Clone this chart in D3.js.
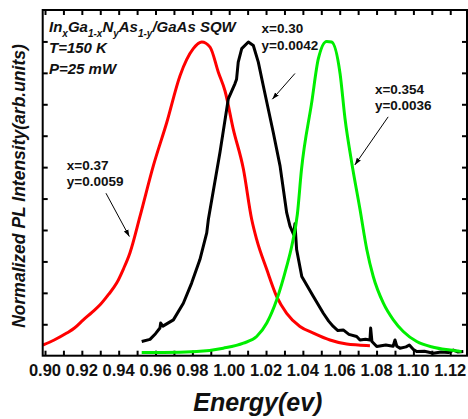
<!DOCTYPE html>
<html>
<head>
<meta charset="utf-8">
<script src="https://cdn.jsdelivr.net/npm/d3@7"></script>
<style>
  body { margin: 0; background: #fff; }
  text { font-family: Arial, "Liberation Sans", sans-serif; font-weight: bold; }
</style>
</head>
<body>
<div id="chart"></div>
<script>
// PL spectra, [energy (eV), normalized intensity]
var redSeries = [
  [0.8989, 0.034], [0.9050, 0.050], [0.9118, 0.072], [0.9160, 0.088], [0.9208, 0.114],
  [0.9255, 0.138], [0.9299, 0.162], [0.9345, 0.195], [0.9389, 0.231], [0.9425, 0.275],
  [0.9461, 0.327], [0.9516, 0.444], [0.9588, 0.604], [0.9661, 0.742], [0.9733, 0.891],
  [0.9805, 0.977], [0.9851, 0.998], [0.9896, 0.982], [0.9941, 0.902], [0.9977, 0.843],
  [1.0022, 0.721], [1.0077, 0.594], [1.0122, 0.434], [1.0149, 0.370], [1.0204, 0.274],
  [1.0258, 0.188], [1.0312, 0.135], [1.0384, 0.093], [1.0457, 0.072], [1.0547, 0.050],
  [1.0638, 0.037], [1.0700, 0.034], [1.0764, 0.032]
];
var blackSeries = [
  [0.9525, 0.045], [0.9570, 0.052], [0.9600, 0.070], [0.9624, 0.088], [0.9628, 0.104],
  [0.9640, 0.094], [0.9697, 0.114], [0.9751, 0.167], [0.9796, 0.231], [0.9841, 0.306],
  [0.9878, 0.391], [0.9887, 0.434], [0.9950, 0.647], [0.9995, 0.817], [1.0031, 0.865],
  [1.0040, 0.880], [1.0049, 0.934], [1.0068, 0.977], [1.0104, 0.998], [1.0131, 0.987],
  [1.0158, 0.934], [1.0185, 0.859], [1.0212, 0.785], [1.0239, 0.711], [1.0276, 0.604],
  [1.0312, 0.455], [1.0330, 0.412], [1.0350, 0.385], [1.0357, 0.420], [1.0366, 0.338],
  [1.0394, 0.252], [1.0457, 0.188], [1.0511, 0.135], [1.0540, 0.110], [1.0565, 0.093],
  [1.0590, 0.080], [1.0619, 0.082], [1.0650, 0.068], [1.0692, 0.061], [1.0710, 0.050],
  [1.0740, 0.052], [1.0764, 0.050], [1.0768, 0.088], [1.0775, 0.045], [1.0801, 0.029],
  [1.0850, 0.034], [1.0890, 0.030], [1.0900, 0.050], [1.0910, 0.030], [1.0927, 0.024],
  [1.0960, 0.028], [1.0978, 0.034], [1.1000, 0.020], [1.1018, 0.013], [1.1060, 0.014],
  [1.1108, 0.008], [1.1150, 0.012], [1.1190, 0.010], [1.1217, 0.018], [1.1240, 0.012],
  [1.1271, 0.013]
];
var greenSeries = [
  [0.9525, 0.010], [0.9642, 0.010], [0.9824, 0.013], [0.9968, 0.024], [1.0077, 0.040],
  [1.0149, 0.061], [1.0204, 0.104], [1.0258, 0.178], [1.0312, 0.284], [1.0340, 0.350],
  [1.0370, 0.450], [1.0392, 0.590], [1.0448, 0.806], [1.0484, 0.945], [1.0529, 1.000],
  [1.0556, 0.998], [1.0602, 0.897], [1.0629, 0.753], [1.0665, 0.615], [1.0710, 0.466],
  [1.0747, 0.338], [1.0782, 0.252], [1.0837, 0.167], [1.0891, 0.114], [1.0945, 0.077],
  [1.1018, 0.045], [1.1108, 0.027], [1.1199, 0.018], [1.1262, 0.013]
];

// x tick labels (every 0.02) and minor ticks (every 0.01)
var xLabels = ["0.90", "0.92", "0.94", "0.96", "0.98", "1.00", "1.02", "1.04", "1.06", "1.08", "1.10", "1.12"];
var yTickValues = [0.1, 0.2, 0.3, 0.4, 0.5, 0.6, 0.7, 0.8, 0.9, 1.0];

// annotations: text anchor and arrow (from -> to) in data units
var notes = [
  {lines: ["x=0.37", "y=0.0059"], at: [0.9118, 0.591], from: [0.9331, 0.517], to: [0.9458, 0.379]},
  {lines: ["x=0.30", "y=0.0042"], at: [1.0176, 1.026], from: [1.0357, 0.898], to: [1.0234, 0.816]},
  {lines: ["x=0.354", "y=0.0036"], at: [1.0791, 0.833], from: [1.0863, 0.760], to: [1.0682, 0.607]}
];

var W = 468, H = 419;
var mLeft = 42.7, mRight = 467, mTop = 10, mBottom = 355.7;

var x = d3.scaleLinear().domain([0.89875, 1.1291]).range([mLeft, mRight]);
var y = d3.scaleLinear().domain([0, 1.1]).range([mBottom, mTop]);

var svg = d3.select("#chart").append("svg")
    .attr("width", W)
    .attr("height", H);

svg.append("defs").append("marker")
    .attr("id", "arrow")
    .attr("viewBox", "0 0 10 10")
    .attr("refX", 10).attr("refY", 5)
    .attr("markerWidth", 7).attr("markerHeight", 7)
    .attr("markerUnits", "userSpaceOnUse")
    .attr("orient", "auto")
    .append("path")
    .attr("d", "M0,1.5 L10,5 L0,8.5 Z")
    .attr("fill", "#000");

var xTicks = d3.range(0, 23).map(function(i){ return +(0.90 + i * 0.01).toFixed(2); });

// inward ticks on all four sides
var tickLen = 5;
var bottomAxis = d3.axisBottom(x).tickValues(xTicks).tickSize(-tickLen).tickFormat("");
var topAxis = d3.axisTop(x).tickValues(xTicks).tickSize(-tickLen).tickFormat("");
var leftAxis = d3.axisLeft(y).tickValues(yTickValues).tickSize(-tickLen).tickFormat("");
var rightAxis = d3.axisRight(y).tickValues(yTickValues).tickSize(-tickLen).tickFormat("");

function styleAxis(g) {
  g.select(".domain").remove();
  g.selectAll(".tick line").attr("stroke", "#000").attr("stroke-width", 2);
}

svg.append("g").attr("transform", "translate(0," + mBottom + ")").call(bottomAxis).call(styleAxis);
svg.append("g").attr("transform", "translate(0," + mTop + ")").call(topAxis).call(styleAxis);
svg.append("g").attr("transform", "translate(" + mLeft + ",0)").call(leftAxis).call(styleAxis);
svg.append("g").attr("transform", "translate(" + mRight + ",0)").call(rightAxis).call(styleAxis);

// x tick labels
svg.append("g").selectAll("text")
    .data(xLabels)
    .enter().append("text")
    .attr("x", function(d){ return x(+d); })
    .attr("y", mBottom + 20.5)
    .attr("text-anchor", "middle")
    .attr("font-size", 16.5)
    .attr("fill", "#111")
    .text(function(d){ return d; });

// curves
svg.append("clipPath").attr("id", "plotclip").append("rect")
    .attr("x", mLeft).attr("y", mTop).attr("width", mRight - mLeft).attr("height", mBottom - mTop);

var line = d3.line()
    .curve(d3.curveLinear)
    .x(function(d){ return x(d[0]); })
    .y(function(d){ return y(d[1]); });

var smooth = d3.line()
    .curve(d3.curveMonotoneX)
    .x(function(d){ return x(d[0]); })
    .y(function(d){ return y(d[1]); });

var plot = svg.append("g").attr("clip-path", "url(#plotclip)");

plot.append("path").attr("d", smooth(redSeries))
    .attr("fill", "none").attr("stroke", "#ff0000").attr("stroke-width", 3).attr("stroke-linejoin", "round");
plot.append("path").attr("d", line(blackSeries))
    .attr("fill", "none").attr("stroke", "#000").attr("stroke-width", 3).attr("stroke-linejoin", "round");
plot.append("path").attr("d", smooth(greenSeries))
    .attr("fill", "none").attr("stroke", "#00ee00").attr("stroke-width", 3).attr("stroke-linejoin", "round");

// frame
svg.append("rect")
    .attr("x", mLeft).attr("y", mTop)
    .attr("width", mRight - mLeft).attr("height", mBottom - mTop)
    .attr("fill", "none").attr("stroke", "#000").attr("stroke-width", 2);

// annotations
notes.forEach(function(n){
  n.lines.forEach(function(t, i){
    svg.append("text")
        .attr("x", x(n.at[0]))
        .attr("y", y(n.at[1]) + i * 16.5)
        .attr("font-size", 13.5)
        .attr("fill", "#111")
        .text(t);
  });
  svg.append("line")
      .attr("x1", x(n.from[0])).attr("y1", y(n.from[1]))
      .attr("x2", x(n.to[0])).attr("y2", y(n.to[1]))
      .attr("stroke", "#000").attr("stroke-width", 1)
      .attr("marker-end", "url(#arrow)");
});

// sample description
var head = svg.append("g").attr("font-style", "italic").attr("fill", "#111");
var t1 = head.append("text").attr("x", 49).attr("y", 32).attr("font-size", 15);
[["In", 0], ["x", 1], ["Ga", 0], ["1-x", 1], ["N", 0], ["y", 1], ["As", 0], ["1-y", 1], ["/GaAs SQW", 0]]
  .forEach(function(p, i, arr){
    var prev = i > 0 ? arr[i - 1][1] : 0;
    var dy = (p[1] - prev) * 5;
    t1.append("tspan")
        .attr("dy", dy)
        .attr("font-size", p[1] ? 10 : 15)
        .text(p[0]);
  });
head.append("text").attr("x", 49).attr("y", 53).attr("font-size", 15).text("T=150 K");
head.append("text").attr("x", 49).attr("y", 73.5).attr("font-size", 15).text("P=25 mW");

// axis titles
svg.append("text")
    .attr("transform", "translate(24.5,186) rotate(-90)")
    .attr("text-anchor", "middle")
    .attr("font-style", "italic")
    .attr("font-size", 17.5)
    .attr("fill", "#111")
    .text("Normalized PL Intensity(arb.units)");

svg.append("text")
    .attr("x", (mLeft + mRight) / 2 + 3)
    .attr("y", 411)
    .attr("text-anchor", "middle")
    .attr("font-style", "italic")
    .attr("font-size", 25)
    .attr("fill", "#111")
    .text("Energy(ev)");
</script>
</body>
</html>
